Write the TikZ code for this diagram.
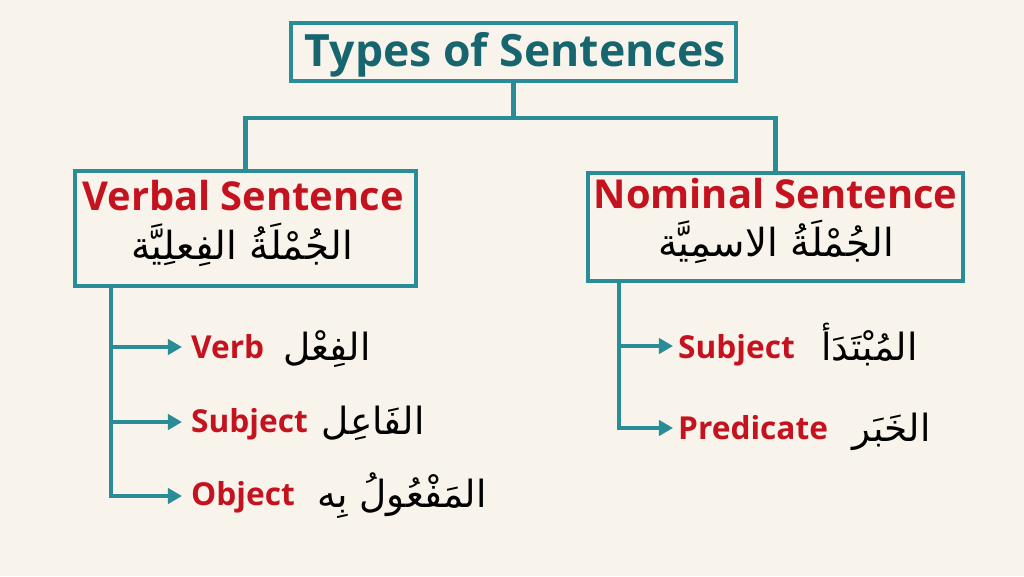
\documentclass[tikz,border=0pt]{standalone}
\usepackage{fontspec}
\setmainfont{Open Sans}
\newfontfamily\arabicfont[Script=Arabic]{DejaVu Sans}
\TeXXeTstate=1
\usetikzlibrary{arrows.meta}
\definecolor{bgcream}{HTML}{F8F4EB}
\definecolor{bteal}{HTML}{2A8C97}
\definecolor{tdark}{HTML}{17656E}
\definecolor{rred}{HTML}{C5121F}
\begin{document}
\begin{tikzpicture}[x=0.03cm,y=-0.03cm,
  box/.style={draw=bteal, line width=3.8pt, fill=bgcream, inner sep=0pt},
  link/.style={draw=bteal, line width=3.8pt},
  arr/.style={link, -{Triangle[length=12pt,width=13pt]}},
  ttl/.style={font=\fontsize{38}{40}\selectfont\bfseries, text=tdark, anchor=base, inner sep=0pt},
  hdr/.style={font=\fontsize{34}{36}\selectfont\bfseries, text=rred, anchor=base, inner sep=0pt},
  arh/.style={font=\fontsize{33}{36}\selectfont\arabicfont, text=black, anchor=base, inner sep=0pt},
  lbl/.style={font=\fontsize{27}{30}\selectfont\bfseries, text=rred, anchor=base west, inner sep=0pt},
  arl/.style={font=\fontsize{32}{34}\selectfont\arabicfont, text=black, anchor=base east, inner sep=0pt},
]
\fill[bgcream] (0,0) rectangle (1024,576);
\useasboundingbox (0,0) rectangle (1024,576);

% boxes
\node[box, minimum width=13.35cm, minimum height=1.74cm] (title) at (513.5,52) {};
\node[box, minimum width=10.23cm, minimum height=3.45cm] (vbox) at (245.5,228.5) {};
\node[box, minimum width=11.25cm, minimum height=3.24cm] (nbox) at (775.5,227) {};

% texts
\node[ttl] (tt) at (515.5,66) {Types of Sentences};
\node[hdr] (vt) at (243,210) {Verbal Sentence};
\node[arh] (va) at (242,259) {\beginR الجُمْلَةُ الفِعلِيَّة\endR};
\node[hdr] (nt) at (775.5,208) {Nominal Sentence};
\node[arh] (na) at (776,256) {\beginR الجُمْلَةُ الاسمِيَّة\endR};

% connectors top
\coordinate (jn) at (513.5,118);
\draw[link] (title.south) -- (jn);
\draw[link] (vbox.north) |- (jn) -| (nbox.north);

% left items
\node[lbl] (verb) at (191,358) {Verb};
\node[arl] (verba) at (371,360) {\beginR الفِعْل\endR};
\node[lbl] (subj) at (191,432) {Subject};
\node[arl] (subja) at (425,434) {\beginR الفَاعِل\endR};
\node[lbl] (obj) at (191,505) {Object};
\node[arl] (obja) at (487,507) {\beginR المَفْعُولُ بِه\endR};

\coordinate (vl) at (111,286);
\draw[link] (vl) -- (111,496);
\draw[arr] (vl) |- ([shift={(-9,-11)}]verb.base west);
\draw[arr] (vl) |- ([shift={(-9,-10)}]subj.base west);
\draw[arr] (vl) |- ([shift={(-9,-9)}]obj.base west);

% right items
\node[lbl] (subj2) at (678,358) {Subject};
\node[arl] (subj2a) at (918,360) {\beginR المُبْتَدَأ\endR};
\node[lbl] (pred) at (678,439) {Predicate};
\node[arl] (preda) at (931,441) {\beginR الخَبَر\endR};

\coordinate (nl) at (619,281);
\draw[arr] (nl) |- ([shift={(-5,-12)}]subj2.base west);
\draw[arr] (nl) |- ([shift={(-5,-11)}]pred.base west);
\end{tikzpicture}
\end{document}
